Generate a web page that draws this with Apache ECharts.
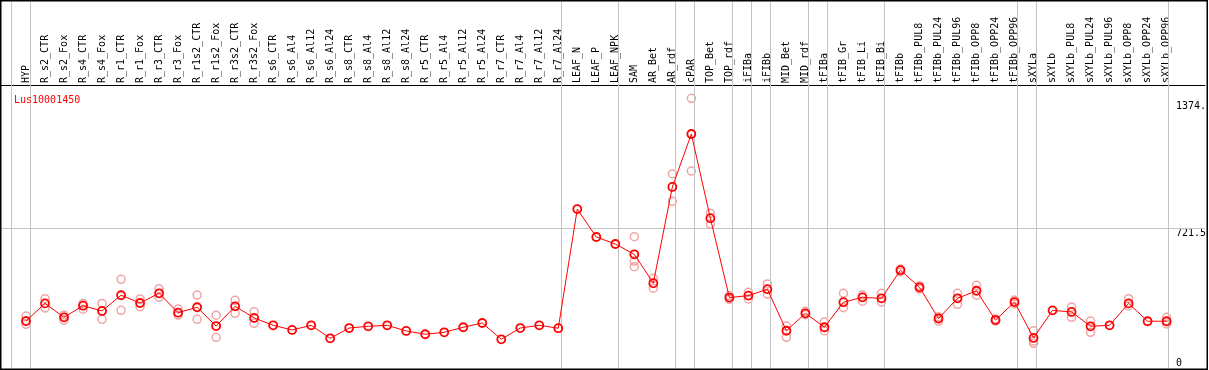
<!DOCTYPE html>
<html><head><meta charset="utf-8">
<script src="https://cdn.jsdelivr.net/npm/echarts@6/dist/echarts.min.js"></script>
<style>html,body{margin:0;padding:0;background:#fff}#c{width:1209px;height:370px}</style>
</head><body><div id="c"></div>
<script>
const geneName = 'Lus10001450';
const categories = ['HYP','R_s2_CTR','R_s2_Fox','R_s4_CTR','R_s4_Fox','R_r1_CTR','R_r1_Fox','R_r3_CTR','R_r3_Fox',
  'R_r1s2_CTR','R_r1s2_Fox','R_r3s2_CTR','R_r3s2_Fox','R_s6_CTR','R_s6_Al4','R_s6_Al12','R_s6_Al24',
  'R_s8_CTR','R_s8_Al4','R_s8_Al12','R_s8_Al24','R_r5_CTR','R_r5_Al4','R_r5_Al12','R_r5_Al24',
  'R_r7_CTR','R_r7_Al4','R_r7_Al12','R_r7_Al24','LEAF_N','LEAF_P','LEAF_NPK','SAM','AR_Bet','AR_rdf',
  'cPAR','TOP_Bet','TOP_rdf','iFIBa','iFIBb','MID_Bet','MID_rdf','tFIBa','tFIB_Gr','tFIB_Li','tFIB_Bi',
  'tFIBb','tFIBb_PUL8','tFIBb_PUL24','tFIBb_PUL96','tFIBb_OPP8','tFIBb_OPP24','tFIBb_OPP96',
  'sXYLa','sXYLb','sXYLb_PUL8','sXYLb_PUL24','sXYLb_PUL96','sXYLb_OPP8','sXYLb_OPP24','sXYLb_OPP96'];
const means = [242,333,261,321,294,375,335,385,285,313,216,318,258,220,196,220,153,206,215,220,191,174,184,210,232,148,206,220,205,
  819,675,639,586,437,933,1206,772,363,373,406,192,282,210,339,364,359,
  504,416,255,359,398,247,340,155,297,289,215,220,333,241,241];
const rep1 = [268,357,273,333,333,457,356,409,304,376,272,349,290,null,null,null,null,null,null,null,null,null,null,null,null,null,null,null,null,
  null,null,null,677,462,1000,1390,797,373,390,433,216,292,237,385,376,385,
  510,424,264,385,426,253,350,192,null,314,242,null,357,null,261];
const rep2 = [225,309,247,303,251,297,316,364,273,251,158,282,230,null,null,null,null,null,null,null,null,null,null,null,null,null,null,null,null,
  null,null,null,551,411,859,1015,742,354,356,381,158,275,192,311,344,340,
  495,407,241,328,375,242,330,139,null,261,184,null,320,null,227];
const rep3 = [242,null,null,null,null,null,null,null,null,null,null,null,null,null,null,null,null,null,null,null,null,null,null,null,null,null,null,null,null,
  null,null,null,522,null,null,null,null,null,null,null,null,null,null,null,null,null,
  null,null,null,null,null,null,null,127,null,null,null,null,null,null,null];
const yTickValues = [0, 721.5, 1374];
const yTickLabels = ['0', '721.5', '1374.'];
const refLineValue = 721.5;
const groupEnds = [-1, 0, 28, 31, 34, 35, 37, 38, 39, 41, 42, 45, 52, 53, 60];

// layout
const FONT = 'DejaVu Sans Mono';
const band = 19.01, catLeft = 16.5;
const frameL = 1, frameR = 1207, zeroY = 368;
const yMax = 1896.5;
const sepOffset = 0.22;
const aMin = (frameL - catLeft) / band - 0.5;
const aMax = (frameR - catLeft) / band - 0.5;

const chart = echarts.init(document.getElementById('c'), null, {renderer: 'canvas'});
const labelMap = {};
yTickValues.forEach((v, i) => labelMap[v] = yTickLabels[i]);

const repStyle = {color: 'rgba(0,0,0,0)', borderColor: '#ee8f8f', borderWidth: 1.5};
function repSeries(arr) {
  return {type: 'scatter', xAxisIndex: 1, yAxisIndex: 1, data: arr.map(v => v == null ? '-' : v),
    symbol: 'circle', symbolSize: 8, itemStyle: repStyle, z: 2, silent: true};
}

chart.setOption({
  animation: false,
  backgroundColor: '#fff',
  title: {text: geneName, left: 9, top: 90, textStyle: {fontFamily: FONT, fontSize: 10, fontWeight: 'normal', color: '#ff0000'}},
  grid: [
    {left: frameL, width: frameR - frameL, top: 0, height: zeroY, containLabel: false},
    {left: catLeft, width: band * categories.length, top: 0, height: zeroY, containLabel: false}
  ],
  xAxis: [
    {type: 'value', gridIndex: 0, min: aMin, max: aMax, position: 'top', offset: -85,
      axisLine: {show: true, onZero: false, lineStyle: {color: '#000', width: 1}},
      axisTick: {show: false}, axisLabel: {show: false}, splitLine: {show: false}},
    {type: 'category', gridIndex: 1, data: categories, position: 'top', offset: -85, boundaryGap: true,
      axisLine: {show: false}, axisTick: {show: false}, splitLine: {show: false},
      axisLabel: {interval: 0, rotate: 90, margin: 2, fontFamily: FONT, fontSize: 10, color: '#000'}}
  ],
  yAxis: [
    {type: 'value', gridIndex: 0, min: 0, max: yMax, position: 'right',
      axisLine: {show: false}, axisTick: {show: false}, splitLine: {show: false},
      axisLabel: {inside: true, customValues: yTickValues, formatter: v => labelMap[v] ?? '',
        align: 'left', margin: 29, verticalAlign: 'top', verticalAlignMinLabel: 'bottom',
        fontFamily: FONT, fontSize: 10, color: '#000'}},
    {type: 'value', gridIndex: 1, min: 0, max: yMax, show: false, splitLine: {show: false}}
  ],
  series: [
    {type: 'line', xAxisIndex: 0, yAxisIndex: 0, data: [], silent: true,
      markLine: {silent: true, symbol: 'none', label: {show: false}, animation: false,
        lineStyle: {color: '#c4c4c4', width: 1, type: 'solid'},
        data: groupEnds.map(g => ({xAxis: g + sepOffset})).concat([{yAxis: refLineValue}])}},
    repSeries(rep1), repSeries(rep2), repSeries(rep3),
    {type: 'line', xAxisIndex: 1, yAxisIndex: 1, data: means, symbol: 'circle', symbolSize: 8,
      lineStyle: {color: '#ff0000', width: 1}, itemStyle: {color: 'rgba(0,0,0,0)', borderColor: '#ff0000', borderWidth: 1.8},
      z: 5, silent: true}
  ],
  graphic: [
    {type: 'rect', shape: {x: 0.75, y: 0.75, width: 1206.5, height: 368.5}, style: {fill: null, stroke: '#000', lineWidth: 1.5}, silent: true, z: 100}
  ]
});
</script>
</body></html>
